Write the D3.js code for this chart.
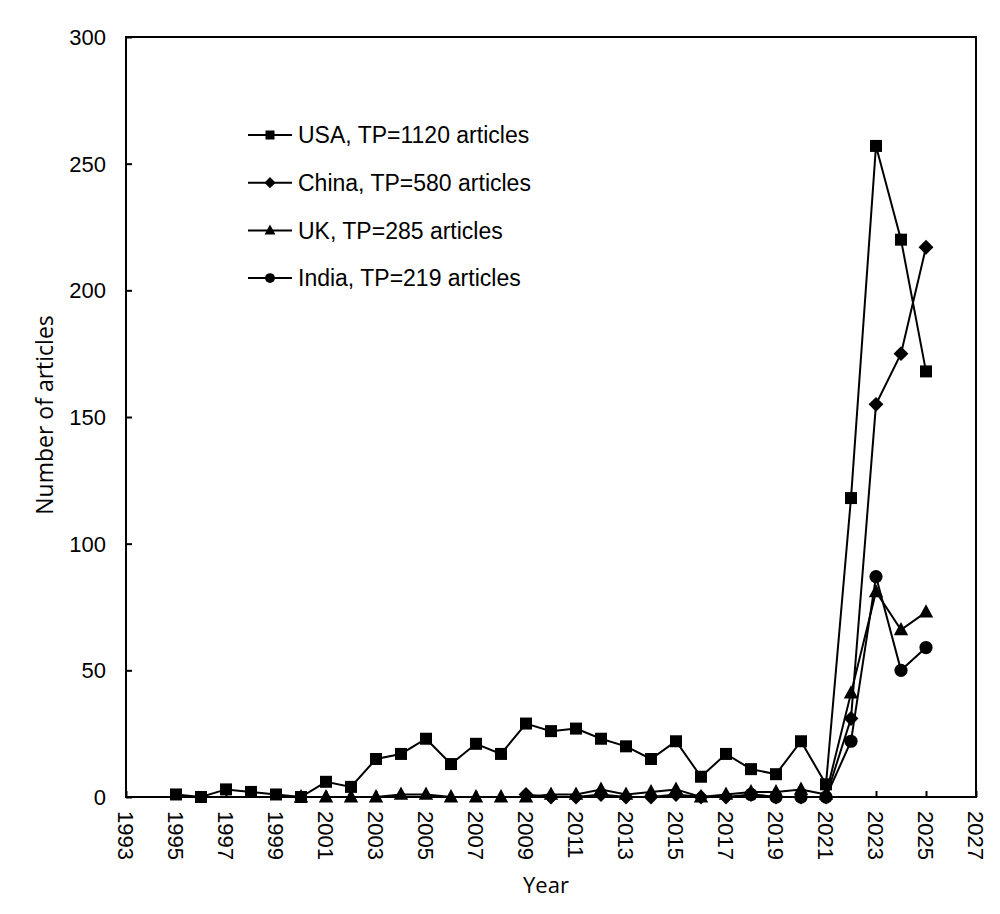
<!DOCTYPE html>
<html>
<head>
<meta charset="utf-8">
<script src="https://cdn.jsdelivr.net/npm/d3@7"></script>
<style>
  body { margin: 0; background: #fff; }
  svg { display: block; }
</style>
</head>
<body>
<svg width="1000" height="914"></svg>
<script>
var svg = d3.select('svg');

// data
var usaYears = d3.range(1995, 2026);
var usaValues = [1, 0, 3, 2, 1, 0, 6, 4, 15, 17, 23, 13, 21, 17, 29, 26, 27, 23, 20, 15, 22, 8, 17, 11, 9, 22, 5, 118, 257, 220, 168];

var chinaYears = d3.range(2009, 2026);
var chinaValues = [1, 0, 0, 1, 0, 0, 1, 0, 0, 1, 0, 0, 0, 31, 155, 175, 217];

var ukYears = d3.range(2000, 2026);
var ukValues = [0, 0, 0, 0, 1, 1, 0, 0, 0, 0, 1, 1, 3, 1, 2, 3, 0, 1, 2, 2, 3, 1, 41, 81, 66, 73];

var indiaYears = d3.range(2018, 2026);
var indiaValues = [1, 0, 0, 0, 22, 87, 50, 59];

var seriesNames = ['USA, TP=1120 articles', 'China, TP=580 articles', 'UK, TP=285 articles', 'India, TP=219 articles'];
var xTicks = d3.range(1993, 2028, 2);
var yTicks = [0, 50, 100, 150, 200, 250, 300];

var series = [
  {name: seriesNames[0], years: usaYears, values: usaValues, shape: 'square'},
  {name: seriesNames[1], years: chinaYears, values: chinaValues, shape: 'diamond'},
  {name: seriesNames[2], years: ukYears, values: ukValues, shape: 'triangle'},
  {name: seriesNames[3], years: indiaYears, values: indiaValues, shape: 'circle'}
];

var pLeft = 126, pRight = 976, pTop = 37, pBottom = 797;

var x = d3.scaleLinear().domain([1993, 2027]).range([pLeft, pRight]);
var y = d3.scaleLinear().domain([0, 300]).range([pBottom, pTop]);

var tickFont = '"Liberation Sans", Arial, sans-serif';
var titleFont = '"Open Sans", "Noto Sans", sans-serif';

// plot frame
svg.append('rect')
    .attr('x', pLeft)
    .attr('y', pTop)
    .attr('width', pRight - pLeft)
    .attr('height', pBottom - pTop)
    .attr('fill', 'none')
    .attr('stroke', '#000')
    .attr('stroke-width', 2);

// y axis, ticks pointing inwards
var yAxis = svg.append('g')
    .attr('transform', 'translate(' + pLeft + ',0)')
    .call(d3.axisRight(y).tickValues(yTicks).tickSize(6).tickFormat(''));
yAxis.select('.domain').remove();
yAxis.selectAll('line').attr('stroke-width', 2);

svg.selectAll('.ylab')
    .data(yTicks)
    .enter()
    .append('text')
    .attr('class', 'ylab')
    .attr('x', pLeft - 20)
    .attr('y', function(d) { return y(d); })
    .attr('dy', '0.36em')
    .attr('text-anchor', 'end')
    .attr('font-family', tickFont)
    .attr('font-size', 22)
    .text(function(d) { return d; });

// x axis, ticks pointing inwards
var xAxis = svg.append('g')
    .attr('transform', 'translate(0,' + pBottom + ')')
    .call(d3.axisTop(x).tickValues(xTicks).tickSize(6).tickFormat(''));
xAxis.select('.domain').remove();
xAxis.selectAll('line').attr('stroke-width', 2);

svg.selectAll('.xlab')
    .data(xTicks)
    .enter()
    .append('text')
    .attr('class', 'xlab')
    .attr('transform', function(d) {
        return 'translate(' + x(d) + ',' + (pBottom + 14) + ') rotate(90)';
    })
    .attr('dy', '0.36em')
    .attr('text-anchor', 'start')
    .attr('font-family', tickFont)
    .attr('font-size', 22)
    .text(function(d) { return d; });

// axis titles
svg.append('text')
    .attr('x', 546)
    .attr('y', 893)
    .attr('text-anchor', 'middle')
    .attr('font-family', titleFont)
    .attr('font-size', 22)
    .text('Year');

svg.append('text')
    .attr('transform', 'translate(53,415) rotate(-90)')
    .attr('text-anchor', 'middle')
    .attr('font-family', titleFont)
    .attr('font-size', 23)
    .text('Number of articles');

function marker(sel, shape, size) {
    if (shape === 'circle') {
        sel.append('circle').attr('r', size * 0.55).attr('fill', '#000');
    } else if (shape === 'square') {
        sel.append('rect')
            .attr('x', -size / 2).attr('y', -size / 2)
            .attr('width', size).attr('height', size)
            .attr('fill', '#000');
    } else if (shape === 'diamond') {
        var h = size * 0.62;
        sel.append('path')
            .attr('d', 'M0,' + (-h) + 'L' + h + ',0L0,' + h + 'L' + (-h) + ',0Z')
            .attr('fill', '#000');
    } else {
        var s = size * 0.6;
        sel.append('path')
            .attr('d', 'M0,' + (-s * 1.1) + 'L' + s + ',' + (s * 0.75) + 'L' + (-s) + ',' + (s * 0.75) + 'Z')
            .attr('fill', '#000');
    }
}

var line = d3.line()
    .x(function(d) { return x(d[0]); })
    .y(function(d) { return y(d[1]); });

series.forEach(function(s) {
    var pts = s.years.map(function(yr, i) { return [yr, s.values[i]]; });
    var g = svg.append('g');
    g.append('path')
        .attr('d', line(pts))
        .attr('fill', 'none')
        .attr('stroke', '#000')
        .attr('stroke-width', 2);
    g.selectAll('g.pt')
        .data(pts)
        .enter()
        .append('g')
        .attr('class', 'pt')
        .attr('transform', function(d) { return 'translate(' + x(d[0]) + ',' + y(d[1]) + ')'; })
        .each(function() { marker(d3.select(this), s.shape, 12); });
});

// legend
var legend = svg.append('g');
series.forEach(function(s, i) {
    var ly = 135 + i * 47.7;
    var row = legend.append('g');
    row.append('line')
        .attr('x1', 248).attr('x2', 292)
        .attr('y1', ly).attr('y2', ly)
        .attr('stroke', '#000')
        .attr('stroke-width', 2);
    var m = row.append('g').attr('transform', 'translate(270,' + ly + ')');
    marker(m, s.shape, 9);
    row.append('text')
        .attr('x', 298)
        .attr('y', ly)
        .attr('dy', '0.36em')
        .attr('font-family', tickFont)
        .attr('font-size', 23)
        .text(s.name);
});
</script>
</body>
</html>
